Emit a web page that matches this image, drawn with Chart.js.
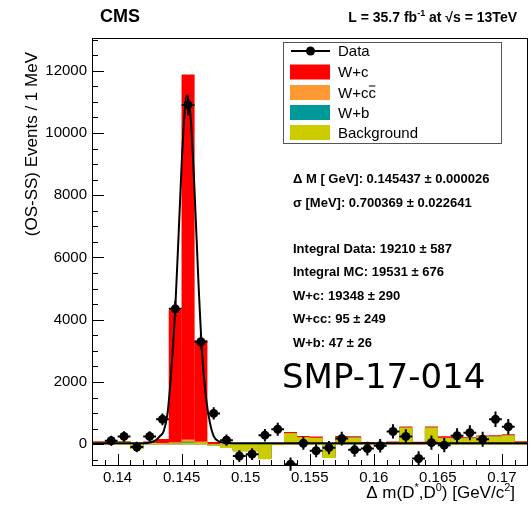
<!DOCTYPE html>
<html>
<head>
<meta charset="utf-8">
<script src="https://cdn.jsdelivr.net/npm/chart.js@4.4.1/dist/chart.umd.min.js"></script>
<style>
  html, body { margin: 0; padding: 0; background: #fff; }
  canvas { display: block; }
</style>
</head>
<body>
<canvas id="c" width="532" height="506" style="width:532px;height:506px"></canvas>
<script>
// Bin centres of the Delta m(D*,D0) histogram, 1 MeV bins [GeV/c^2]
const binCenters = [
  0.1385, 0.1395, 0.1405, 0.1415, 0.1425, 0.1435, 0.1445, 0.1455, 0.1465, 0.1475,
  0.1485, 0.1495, 0.1505, 0.1515, 0.1525, 0.1535, 0.1545, 0.1555, 0.1565, 0.1575,
  0.1585, 0.1595, 0.1605, 0.1615, 0.1625, 0.1635, 0.1645, 0.1655, 0.1665, 0.1675,
  0.1685, 0.1695, 0.1705, 0.1715
];

// Data (OS-SS) events per bin and their uncertainties
const dataEvents = [
  null, 110, 250, -90, 250, 800, 4350, 10900, 3290, 990,
  130, -380, -320, 290, 480, -640, 30, -210, -110, 180,
  -180, -140, -50, 410, 250, -460, 50, -30, 270, 370,
  160, 800, 560, null
];
const dataErrors = [
  null, 160, 170, 170, 170, 190, 260, 330, 240, 200,
  180, 190, 190, 200, 210, 210, 210, 210, 210, 220,
  220, 220, 220, 230, 230, 230, 230, 230, 240, 240,
  240, 250, 250, null
];

// Simulated contributions per bin
const wcEvents = [
  20, 20, 20, 25, 40, 130, 4250, 11730, 3250, 110,
  40, 30, 30, 30, 30, 35, 40, 40, 35, 40,
  40, 35, 30, 30, 30, 40, 35, 45, 35, 30,
  30, 30, 30, 30
];
const wccEvents = [
  5, 5, 5, 5, 5, 8, 25, 70, 20, 8,
  5, 5, 5, 5, 5, 5, 5, 5, 5, 5,
  5, 5, 5, 5, 5, 5, 5, 5, 5, 5,
  5, 5, 5, 5
];
const wbEvents = [
  2, 2, 2, 2, 2, 3, 8, 30, 6, 3,
  2, 2, 2, 2, 2, 2, 2, 2, 2, 2,
  2, 2, 2, 2, 2, 2, 2, 2, 2, 2,
  2, 2, 2, 2
];
const bkgEvents = [
  70, 60, 80, -150, 40, 30, 30, 50, 60, -50,
  -120, -230, -230, -480, -30, 350, 220, 200, -440, 220,
  210, 30, -40, 50, 530, 30, 530, 200, 190, 190,
  240, 250, 280, 60
];

// Fitted signal shape, sampled along Delta m
const fitX = [
  0.1380, 0.1420, 0.1426, 0.1430, 0.1433, 0.1436, 0.1439, 0.1442, 0.1445, 0.1448,
  0.1451, 0.1454, 0.1457, 0.1460, 0.1463, 0.1466, 0.1469, 0.1472, 0.1475, 0.1479,
  0.1484, 0.1490, 0.1720
];
const fitY = [
  30, 32, 60, 130, 260, 420, 1000, 2400, 4350, 7100,
  9800, 11200, 10500, 8200, 5300, 2900, 1500, 700, 260, 90,
  45, 32, 30
];

// Axis ticks
const xTickValues = [0.14, 0.145, 0.15, 0.155, 0.16, 0.165, 0.17];
const xTickLabels = ['0.14', '0.145', '0.15', '0.155', '0.16', '0.165', '0.17'];
const yTickValues = [0, 2000, 4000, 6000, 8000, 10000, 12000];
const yTickLabels = ['0', '2000', '4000', '6000', '8000', '10000', '12000'];

// Fit summary shown on the plot
const fitSummary = [
  'Δ M [ GeV]: 0.145437 ± 0.000026',
  'σ [MeV]: 0.700369 ± 0.022641',
  '',
  'Integral Data: 19210 ± 587',
  'Integral MC: 19531 ± 676',
  'W+c: 19348 ± 290',
  'W+cc: 95 ± 249',
  'W+b: 47 ± 26'
];

const colors = {
  wc: '#ff0000',
  wcc: '#ff9933',
  wb: '#009999',
  bkg: '#cccc00'
};

const binWidth = 0.001;
const SANS = '"Liberation Sans", Arial, Helvetica, sans-serif';

// Cumulative stack tops (background at the bottom, W+c on top)
const cumulative = (...parts) => binCenters.map((_, i) => parts.reduce((s, a) => s + a[i], 0));
const bkgTop = cumulative(bkgEvents);
const wbTop = cumulative(bkgEvents, wbEvents);
const wccTop = cumulative(bkgEvents, wbEvents, wccEvents);
const wcTop = cumulative(bkgEvents, wbEvents, wccEvents, wcEvents);
const histPoints = vals => binCenters.map((x, i) => ({ x, y: vals[i] }));

const dataPoints = binCenters
  .map((x, i) => ({ x, y: dataEvents[i], err: dataErrors[i] }))
  .filter(p => p.y !== null);

const histStyle = {
  type: 'bar',
  grouped: false,
  barPercentage: 1.02,
  categoryPercentage: 1.0,
  borderWidth: 0
};

// Draws rich text pieces (with superscripts); align 'left' or 'right'
function drawRich(ctx, pieces, x, y, size, bold, align) {
  const fontOf = (sz) => (bold ? 'bold ' : '') + sz + 'px ' + SANS;
  let total = 0;
  const widths = pieces.map(p => {
    ctx.font = fontOf(p.sup ? Math.round(size * 0.65) : size);
    const w = ctx.measureText(p.t).width;
    total += w;
    return w;
  });
  let cx = align === 'right' ? x - total : x;
  ctx.textAlign = 'left';
  ctx.textBaseline = 'alphabetic';
  pieces.forEach((p, i) => {
    ctx.font = fontOf(p.sup ? Math.round(size * 0.65) : size);
    ctx.fillText(p.t, cx, p.sup ? y - size * 0.42 : y);
    cx += widths[i];
  });
}

const decorations = {
  id: 'decorations',
  beforeDatasetDraw(chart, args) {
    if (args.index !== 0) return;
    const { ctx, scales: { x, y } } = chart;
    ctx.save();
    ctx.strokeStyle = '#000';
    ctx.lineWidth = 2;
    dataPoints.forEach(p => {
      const px = x.getPixelForValue(p.x);
      const py = y.getPixelForValue(p.y);
      ctx.beginPath();
      ctx.moveTo(px, y.getPixelForValue(p.y - p.err));
      ctx.lineTo(px, y.getPixelForValue(p.y + p.err));
      ctx.moveTo(x.getPixelForValue(p.x - binWidth / 2), py);
      ctx.lineTo(x.getPixelForValue(p.x + binWidth / 2), py);
      ctx.stroke();
    });
    ctx.restore();
  },
  afterDatasetsDraw(chart) {
    const { ctx, chartArea: a, scales: { x, y } } = chart;
    ctx.save();
    ctx.strokeStyle = '#000';
    ctx.lineWidth = 1;
    // frame
    ctx.strokeRect(Math.round(a.left) + 0.5, Math.round(a.top) + 0.5,
      Math.round(a.right - a.left) - 1, Math.round(a.bottom - a.top) - 1);
    ctx.beginPath();
    // x ticks: minor at every bin edge, major at labelled values
    const edges = binCenters.map(c => c - binWidth / 2);
    edges.forEach(v => {
      const px = Math.round(x.getPixelForValue(v)) + 0.5;
      ctx.moveTo(px, a.bottom);
      ctx.lineTo(px, a.bottom - 6);
    });
    xTickValues.forEach(v => {
      const px = Math.round(x.getPixelForValue(v)) + 0.5;
      ctx.moveTo(px, a.bottom);
      ctx.lineTo(px, a.bottom - 12);
    });
    // y ticks: minor every 500, major at labelled values
    for (let v = -500; v <= 13000; v += 500) {
      const py = Math.round(y.getPixelForValue(v)) + 0.5;
      ctx.moveTo(a.left, py);
      ctx.lineTo(a.left + 6, py);
    }
    yTickValues.forEach(v => {
      const py = Math.round(y.getPixelForValue(v)) + 0.5;
      ctx.moveTo(a.left, py);
      ctx.lineTo(a.left + 12, py);
    });
    ctx.stroke();
    ctx.restore();
  },
  afterDraw(chart) {
    const { ctx } = chart;
    ctx.save();
    ctx.fillStyle = '#000';

    // header
    ctx.font = 'bold 18px ' + SANS;
    ctx.textAlign = 'left';
    ctx.textBaseline = 'alphabetic';
    ctx.fillText('CMS', 100, 22);
    drawRich(ctx, [
      { t: 'L = 35.7 fb' }, { t: '-1', sup: true }, { t: ' at √s = 13TeV' }
    ], 517, 21.5, 14, true, 'right');

    // axis titles
    ctx.save();
    ctx.translate(32, 52);
    ctx.rotate(-Math.PI / 2);
    ctx.font = '17px ' + SANS;
    ctx.textAlign = 'right';
    ctx.textBaseline = 'middle';
    ctx.fillText('(OS-SS) Events / 1 MeV', 0, 0);
    ctx.restore();
    drawRich(ctx, [
      { t: 'Δ m(D' }, { t: '*', sup: true }, { t: ',D' }, { t: '0', sup: true },
      { t: ') [GeV/c' }, { t: '2', sup: true }, { t: ']' }
    ], 515, 498, 17, false, 'right');

    // legend
    const lx = 283.5, ly = 42.5, lw = 218, lh = 101;
    ctx.fillStyle = '#fff';
    ctx.fillRect(lx, ly, lw, lh);
    ctx.strokeStyle = '#555';
    ctx.lineWidth = 1;
    ctx.strokeRect(lx, ly, lw, lh);
    const entries = [
      { label: 'Data', marker: true },
      { label: 'W+c' }, { label: 'W+cc̄' }, { label: 'W+b' }, { label: 'Background' }
    ];
    const rowY = [51, 72, 92.5, 112.5, 132.5];
    entries.forEach((e, i) => {
      const cy = rowY[i];
      if (e.marker) {
        ctx.strokeStyle = '#000';
        ctx.lineWidth = 2;
        ctx.beginPath();
        ctx.moveTo(291, cy);
        ctx.lineTo(330, cy);
        ctx.stroke();
        ctx.fillStyle = '#000';
        ctx.beginPath();
        ctx.arc(310.5, cy, 4.5, 0, Math.PI * 2);
        ctx.fill();
      } else {
        const ds = chart.data.datasets.find(d => d.label === e.label);
        ctx.fillStyle = ds.backgroundColor;
        ctx.fillRect(290, cy - 7.5, 40, 15);
      }
      ctx.fillStyle = '#000';
      ctx.font = '15px ' + SANS;
      ctx.textAlign = 'left';
      ctx.textBaseline = 'alphabetic';
      const bar = e.label.indexOf('\u0304');
      if (bar > 0) {
        const plain = e.label.replace('\u0304', '');
        ctx.fillText(plain, 338, cy + 5.4);
        const x0 = 338 + ctx.measureText(plain.slice(0, bar - 1)).width;
        const x1 = 338 + ctx.measureText(plain.slice(0, bar)).width;
        ctx.fillRect(x0 + 0.5, cy - 7, x1 - x0 - 1, 1);
      } else {
        ctx.fillText(e.label, 338, cy + 5.4);
      }
    });

    // fit summary
    ctx.fillStyle = '#000';
    ctx.font = 'bold 13px ' + SANS;
    ctx.textAlign = 'left';
    ctx.textBaseline = 'alphabetic';
    const sumY = [183, 207.4, 230, 253, 276.4, 299.7, 323, 347.4];
    fitSummary.forEach((t, i) => { if (t) ctx.fillText(t, 293, sumY[i]); });

    // analysis reference
    ctx.font = '34px "DejaVu Sans", sans-serif';
    ctx.fillText('SMP-17-014', 282, 388);

    ctx.restore();
  }
};

Chart.defaults.font.family = SANS;

new Chart(document.getElementById('c'), {
  type: 'bar',
  data: {
    datasets: [
      {
        type: 'line', label: 'Data', data: dataPoints, showLine: false,
        pointRadius: 4.5, pointBackgroundColor: '#000', pointBorderColor: '#000',
        pointBorderWidth: 0, order: 0
      },
      {
        type: 'line', label: 'Fit', data: fitX.map((x, i) => ({ x, y: fitY[i] })),
        borderColor: '#000', borderWidth: 2, pointRadius: 0,
        cubicInterpolationMode: 'monotone', order: 1
      },
      { ...histStyle, label: 'Background', data: histPoints(bkgTop), backgroundColor: colors.bkg, order: 2 },
      { ...histStyle, label: 'W+b', data: histPoints(wbTop), backgroundColor: colors.wb, order: 3 },
      { ...histStyle, label: 'W+cc̄', data: histPoints(wccTop), backgroundColor: colors.wcc, order: 4 },
      { ...histStyle, label: 'W+c', data: histPoints(wcTop), backgroundColor: colors.wc, order: 5 }
    ]
  },
  options: {
    responsive: false,
    animation: false,
    devicePixelRatio: 1,
    events: [],
    layout: { padding: { left: 0, right: 3, top: 38, bottom: 0 } },
    plugins: { legend: { display: false }, tooltip: { enabled: false } },
    scales: {
      x: {
        type: 'linear', min: 0.138, max: 0.172, bounds: 'data', offset: false,
        grid: { display: false, drawTicks: false }, border: { display: false },
        afterBuildTicks: s => { s.ticks = xTickValues.map(v => ({ value: v })); },
        afterFit: s => { s.height = 40; },
        ticks: {
          autoSkip: false, maxRotation: 0, minRotation: 0, padding: 3, color: '#000',
          font: { family: SANS, size: 15 },
          callback: (v, i) => xTickLabels[i]
        }
      },
      y: {
        type: 'linear', min: -700, max: 13050, bounds: 'data',
        grid: { display: false, drawTicks: false }, border: { display: false },
        afterBuildTicks: s => { s.ticks = yTickValues.map(v => ({ value: v })); },
        afterFit: s => { s.width = 92; },
        ticks: {
          autoSkip: false, padding: 5, color: '#000',
          font: { family: SANS, size: 15 },
          callback: (v, i) => yTickLabels[i]
        }
      }
    }
  },
  plugins: [decorations]
});
</script>
</body>
</html>
